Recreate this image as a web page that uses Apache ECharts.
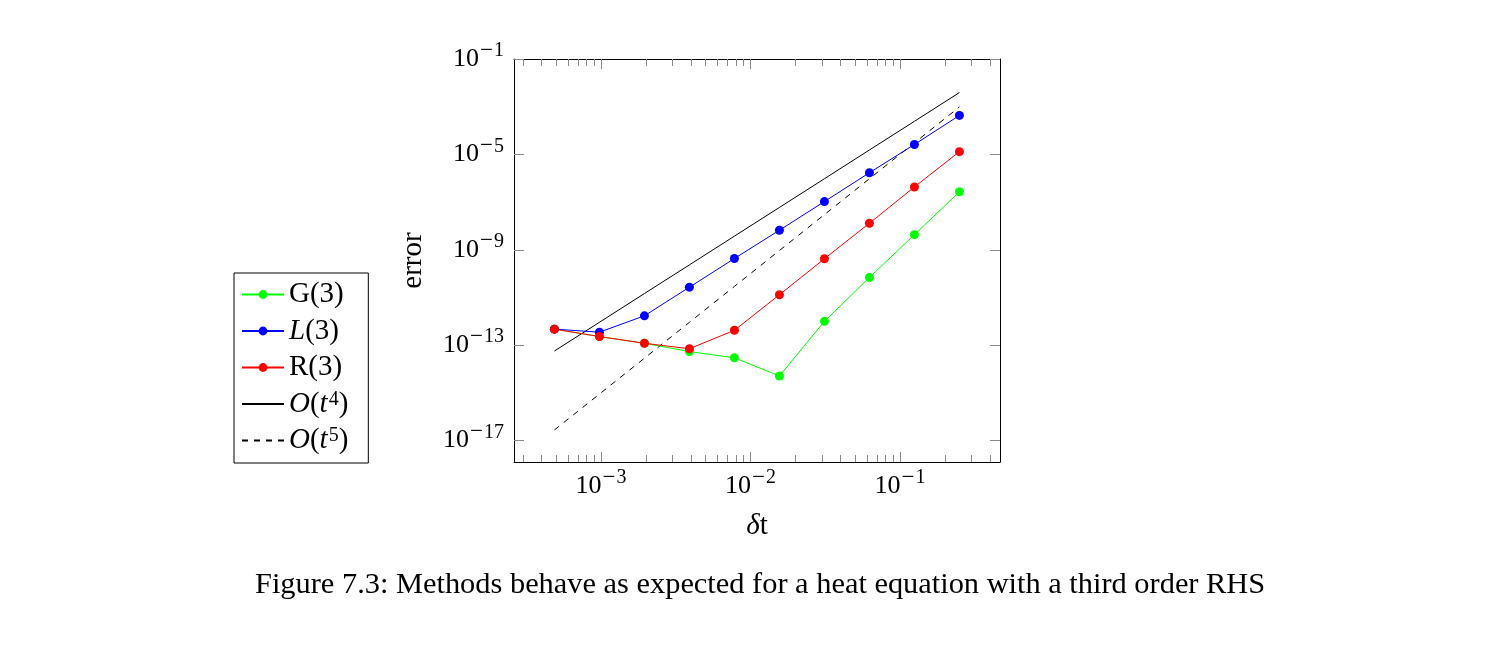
<!DOCTYPE html>
<html>
<head>
<meta charset="utf-8">
<script src="https://cdn.jsdelivr.net/npm/echarts@6/dist/echarts.min.js"></script>
<style>
html,body{margin:0;padding:0;background:#fff;}
#c{width:1488px;height:658px;}
</style>
</head>
<body>
<div id="c"></div>
<script>
// ---- data ----
var dt = [0.00048828125, 0.0009765625, 0.001953125, 0.00390625, 0.0078125,
          0.015625, 0.03125, 0.0625, 0.125, 0.25];
var errG = [4.7e-13, 2.3e-13, 1.2e-13, 5.4e-14, 2.95e-14, 5.1e-15, 1.0e-12, 6.9e-11, 4.3e-9, 2.7e-7];
var errL = [4.7e-13, 3.5e-13, 1.7e-12, 2.7e-11, 4.3e-10, 6.6e-9, 1.05e-7, 1.7e-6, 2.6e-5, 4.3e-4];
var errR = [4.7e-13, 2.3e-13, 1.2e-13, 7.1e-14, 4.2e-13, 1.3e-11, 4.2e-10, 1.3e-8, 4.3e-7, 1.3e-5];
var refO4 = [5.68e-14, 9.09e-13, 1.46e-11, 2.33e-10, 3.73e-9, 5.96e-8, 9.54e-7, 1.53e-5, 2.44e-4, 3.91e-3];
var refO5 = [2.78e-17, 8.88e-16, 2.84e-14, 9.09e-13, 2.91e-11, 9.31e-10, 2.98e-8, 9.54e-7, 3.05e-5, 9.77e-4];
var seriesNames = ['G(3)', 'L(3)', 'R(3)', 'O(t^4)', 'O(t^5)'];
var xMajorTicks = [1e-3, 1e-2, 1e-1];
var xMinorTicks = [3e-4, 4e-4, 5e-4, 6e-4, 7e-4, 8e-4, 9e-4,
                   2e-3, 3e-3, 4e-3, 5e-3, 6e-3, 7e-3, 8e-3, 9e-3,
                   2e-2, 3e-2, 4e-2, 5e-2, 6e-2, 7e-2, 8e-2, 9e-2,
                   2e-1, 3e-1, 4e-1];
var yMajorTicks = [1e-17, 1e-13, 1e-9, 1e-5, 1e-1];
var xMin = 2.62e-4, xMax = 0.467;
var yMin = 1.26e-18, yMax = 1e-1;
var captionText = 'Figure 7.3: Methods behave as expected for a heat equation with a third order RHS';

var FONT = '"Liberation Serif", "DejaVu Serif", serif';

function pairs(ys) { return dt.map(function (x, i) { return [x, ys[i]]; }); }

function powLabel(v) {
  var e = Math.round(Math.log10(v));
  return '{b|10}' + (e < 0 ? '{m|\u2212}{s|' + (-e) + '}' : '{s|' + e + '}');
}
var powRich = {
  b: { fontFamily: FONT, fontSize: 26, color: '#000', verticalAlign: 'bottom', lineHeight: 26 },
  m: { fontFamily: FONT, fontSize: 23, color: '#000', verticalAlign: 'bottom', padding: [0, 1, 10, 1], lineHeight: 17 },
  s: { fontFamily: FONT, fontSize: 20, color: '#000', verticalAlign: 'bottom', padding: [0, 0, 11, 0], lineHeight: 17 }
};

var legendRich = {
  n: { fontFamily: FONT, fontSize: 29, color: '#000', lineHeight: 26 },
  i: { fontFamily: FONT, fontSize: 29, fontStyle: 'italic', color: '#000', lineHeight: 26 },
  s: { fontFamily: FONT, fontSize: 20, color: '#000', padding: [0, 0, 9, 1], lineHeight: 15 }
};
function legendFmt(name) {
  if (name === 'G(3)') return '{n|G(3)}';
  if (name === 'L(3)') return '{i|L}{n|(3)}';
  if (name === 'R(3)') return '{n|R(3)}';
  if (name === 'O(t^4)') return '{i|O}{n|(}{i|t}{s|4}{n|)}';
  if (name === 'O(t^5)') return '{i|O}{n|(}{i|t}{s|5}{n|)}';
  return name;
}

var tickColor = '#8a8a8a';
function xAx(pos, ticks, len, showLine, showLabel) {
  return {
    type: 'log', position: pos, min: xMin, max: xMax,
    axisLine: { show: showLine, lineStyle: { color: '#000', width: 1 } },
    axisTick: { show: true, inside: true, length: len, customValues: ticks, lineStyle: { color: tickColor, width: 1 } },
    axisLabel: showLabel ? { show: true, customValues: ticks, formatter: powLabel, rich: powRich, margin: 11 } : { show: false },
    splitLine: { show: false }, minorTick: { show: false }
  };
}

var chart = echarts.init(document.getElementById('c'));
var xa0 = xAx('bottom', xMajorTicks, 10, true, true);
xa0.name = '{i|\u03b4}{n|t}';
xa0.nameLocation = 'middle';
xa0.nameGap = 50;
xa0.nameTextStyle = {
  fontFamily: FONT, fontSize: 29, color: '#000',
  rich: {
    i: { fontFamily: FONT, fontSize: 29, fontStyle: 'italic', color: '#000' },
    n: { fontFamily: FONT, fontSize: 29, color: '#000' }
  }
};

chart.setOption({
  animation: false,
  backgroundColor: '#fff',
  title: {
    text: captionText, left: 250, top: 565,
    textStyle: { fontFamily: FONT, fontSize: 30.4, fontWeight: 'normal', color: '#000' }
  },
  grid: { left: 514, right: 488, top: 59, bottom: 196 },
  legend: {
    data: [
      { name: seriesNames[0] },
      { name: seriesNames[1] },
      { name: seriesNames[2] },
      { name: seriesNames[3], itemStyle: { opacity: 0 } },
      { name: seriesNames[4], itemStyle: { opacity: 0 } }
    ],
    orient: 'vertical', left: 234, top: 273,
    padding: [7, 20, 8, 7], itemGap: 7.5, itemWidth: 42, itemHeight: 11,
    borderColor: '#000', borderWidth: 1, borderRadius: 0,
    formatter: legendFmt,
    textStyle: { rich: legendRich, fontFamily: FONT, fontSize: 29 }
  },
  xAxis: [
    xa0,
    xAx('bottom', xMinorTicks, 7, false, false),
    xAx('top', xMajorTicks, 10, true, false),
    xAx('top', xMinorTicks, 7, false, false)
  ],
  yAxis: [
    {
      type: 'log', position: 'left', min: yMin, max: yMax,
      name: 'error', nameLocation: 'middle', nameGap: 86,
      nameTextStyle: { fontFamily: FONT, fontSize: 29, color: '#000' },
      axisLine: { show: true, lineStyle: { color: '#000', width: 1 } },
      axisTick: { show: true, inside: true, length: 10, customValues: yMajorTicks, lineStyle: { color: tickColor, width: 1 } },
      axisLabel: { show: true, customValues: yMajorTicks, formatter: powLabel, rich: powRich, margin: 10 },
      splitLine: { show: false }
    },
    {
      type: 'log', position: 'right', min: yMin, max: yMax,
      axisLine: { show: true, lineStyle: { color: '#000', width: 1 } },
      axisTick: { show: true, inside: true, length: 10, customValues: yMajorTicks, lineStyle: { color: tickColor, width: 1 } },
      axisLabel: { show: false },
      splitLine: { show: false }
    }
  ],
  series: [
    { name: seriesNames[0], type: 'line', data: pairs(errG), symbol: 'circle', symbolSize: 9,
      itemStyle: { color: '#00ff00' }, lineStyle: { color: '#00ff00', width: 1 }, z: 2 },
    { name: seriesNames[1], type: 'line', data: pairs(errL), symbol: 'circle', symbolSize: 9,
      itemStyle: { color: '#0000ff' }, lineStyle: { color: '#0000ff', width: 1 }, z: 3 },
    { name: seriesNames[2], type: 'line', data: pairs(errR), symbol: 'circle', symbolSize: 9,
      itemStyle: { color: '#ff0000' }, lineStyle: { color: '#ff0000', width: 1 }, z: 4 },
    { name: seriesNames[3], type: 'line', data: pairs(refO4), symbol: 'none',
      itemStyle: { color: '#000' }, lineStyle: { color: '#000', width: 1 }, z: 1 },
    { name: seriesNames[4], type: 'line', data: pairs(refO5), symbol: 'none',
      itemStyle: { color: '#000' }, lineStyle: { color: '#000', width: 1, type: [6, 6] }, z: 1 }
  ]
});
</script>
</body>
</html>
